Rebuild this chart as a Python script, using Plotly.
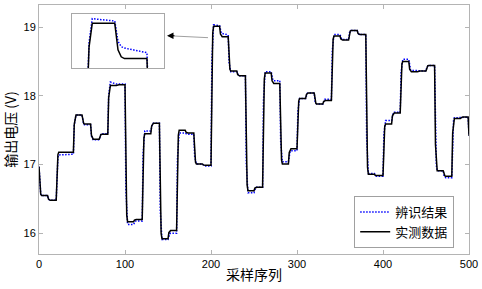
import plotly.graph_objects as go

# ---- data (10-sample step segments) ----
seg_start = list(range(0, 500, 10))
measured_level = [16.55, 16.48, 17.18, 17.18, 17.72, 17.59, 17.37, 17.44, 18.15, 18.16,
                  16.17, 16.20, 17.45, 17.60, 15.92, 16.04, 17.50, 17.46, 17.01, 16.99,
                  19.01, 18.86, 18.36, 18.29, 16.62, 16.67, 18.33, 18.18, 17.01, 17.23,
                  17.96, 18.04, 17.88, 17.93, 18.87, 18.81, 18.95, 18.89, 16.86, 16.84,
                  17.59, 17.75, 18.50, 18.35, 18.36, 18.44, 16.91, 16.83, 17.67, 17.69]
measured_drift = [0.0] * 50
measured_first = 16.97
measured_last = 17.42

ident_level = [16.55, 16.48, 17.14, 17.15, 17.72, 17.58, 17.36, 17.45, 18.20, 18.17,
               16.13, 16.18, 17.49, 17.60, 15.91, 16.00, 17.46, 17.44, 17.01, 16.98,
               19.03, 18.905, 18.35, 18.29, 16.59, 16.67, 18.35, 18.22, 17.04, 17.20,
               17.96, 18.04, 17.88, 17.95, 18.89, 18.82, 18.95, 18.89, 16.87, 16.83,
               17.64, 17.76, 18.53, 18.37, 18.36, 18.44, 16.91, 16.81, 17.68, 17.69]
ident_drift = [0.0] * 50
ident_drift[8] = -0.03
ident_drift[20] = -0.01
ident_drift[21] = -0.02
ident_first = 16.97
ident_last = 17.42

x_ticks = [0, 100, 200, 300, 400, 500]
y_ticks = [16, 17, 18, 19]

# step-response rendering profile (offset in samples, fraction of jump)
step_off = [1, 2, 3]
step_frac = [0.75, 0.95, 1.0]


def build(levels, drift, first, last):
    xs, ys = [0], [first]
    prev = first
    for k, s in enumerate(seg_start):
        L = levels[k]
        for off, f in zip(step_off, step_frac):
            xs.append(s + off)
            ys.append(prev + f * (L - prev))
        end = L + drift[k]
        xs.append(s + 10 if k < len(seg_start) - 1 else 499)
        ys.append(end)
        prev = end
    xs.append(500)
    ys.append(last)
    return xs, ys


mx, my = build(measured_level, measured_drift, measured_first, measured_last)
ix, iy = build(ident_level, ident_drift, ident_first, ident_last)

cjk = "Noto Sans CJK SC"
num = "Liberation Sans, Arial"
dotted = "1.5px,1.5px"

fig = go.Figure()
fig.add_trace(go.Scatter(x=ix, y=iy, mode="lines", name="辨识结果",
                         line=dict(color="#0000ff", width=1.5, dash=dotted)))
fig.add_trace(go.Scatter(x=mx, y=my, mode="lines", name="实测数据",
                         line=dict(color="#000000", width=1.5)))
# inset (same data, zoomed)
fig.add_trace(go.Scatter(x=ix, y=iy, mode="lines", showlegend=False,
                         xaxis="x2", yaxis="y2",
                         line=dict(color="#0000ff", width=1.5, dash=dotted)))
fig.add_trace(go.Scatter(x=mx, y=my, mode="lines", showlegend=False,
                         xaxis="x2", yaxis="y2",
                         line=dict(color="#000000", width=1.5)))

axis_col = "#b4b4b4"
fig.update_layout(
    width=482, height=289,
    margin=dict(l=39, r=13, t=5, b=35, autoexpand=False),
    paper_bgcolor="white", plot_bgcolor="white",
    hovermode=False,
    xaxis=dict(range=[0, 500], tickvals=x_ticks, ticks="inside", ticklen=4,
               tickcolor=axis_col, showline=True, linecolor=axis_col, linewidth=1,
               mirror="ticks", showgrid=False, zeroline=False, automargin=False,
               tickfont=dict(family=num, size=11, color="black"),
               title=dict(text="采样序列", font=dict(family=cjk, size=14, color="black"),
                          standoff=0)),
    yaxis=dict(range=[15.7, 19.32], tickvals=y_ticks, ticks="inside", ticklen=4,
               tickcolor=axis_col, showline=True, linecolor=axis_col, linewidth=1,
               mirror="ticks", showgrid=False, zeroline=False, automargin=False,
               tickfont=dict(family=num, size=11, color="black"),
               title=dict(text="输出电压 (V)", font=dict(family=cjk, size=14, color="black"),
                          standoff=4)),
    xaxis2=dict(domain=[0.0767, 0.2907], anchor="y2", range=[196.7, 225.3],
                showline=True, linecolor="#a8a8a8", mirror=True, showgrid=False,
                zeroline=False, showticklabels=False, ticks="", automargin=False),
    yaxis2=dict(domain=[0.747, 0.964], anchor="x2", range=[18.82, 19.05],
                showline=True, linecolor="#a8a8a8", mirror=True, showgrid=False,
                zeroline=False, showticklabels=False, ticks="", automargin=False),
    legend=dict(x=0.733, y=0.233, xanchor="left", yanchor="top",
                bgcolor="white", bordercolor="#a0a0a0", borderwidth=1,
                font=dict(family=cjk, size=13, color="black"),
                itemwidth=30, tracegroupgap=0),
    showlegend=True,
)

# arrow from the peak to the inset
fig.add_shape(type="line", xref="x", yref="y", x0=196.5, y0=18.845, x1=152, y1=18.872,
              line=dict(color="#a0a0a0", width=1))
fig.add_annotation(x=148.8, y=18.874, xref="x", yref="y", ax=9, ay=0,
                   showarrow=True, arrowhead=2, arrowsize=1.3, arrowwidth=1,
                   arrowcolor="black", text="")

fig.write_html("out.html",
               config={"displayModeBar": False, "staticPlot": True},
               post_script="document.body.style.margin='0';document.body.style.overflow='hidden';")
